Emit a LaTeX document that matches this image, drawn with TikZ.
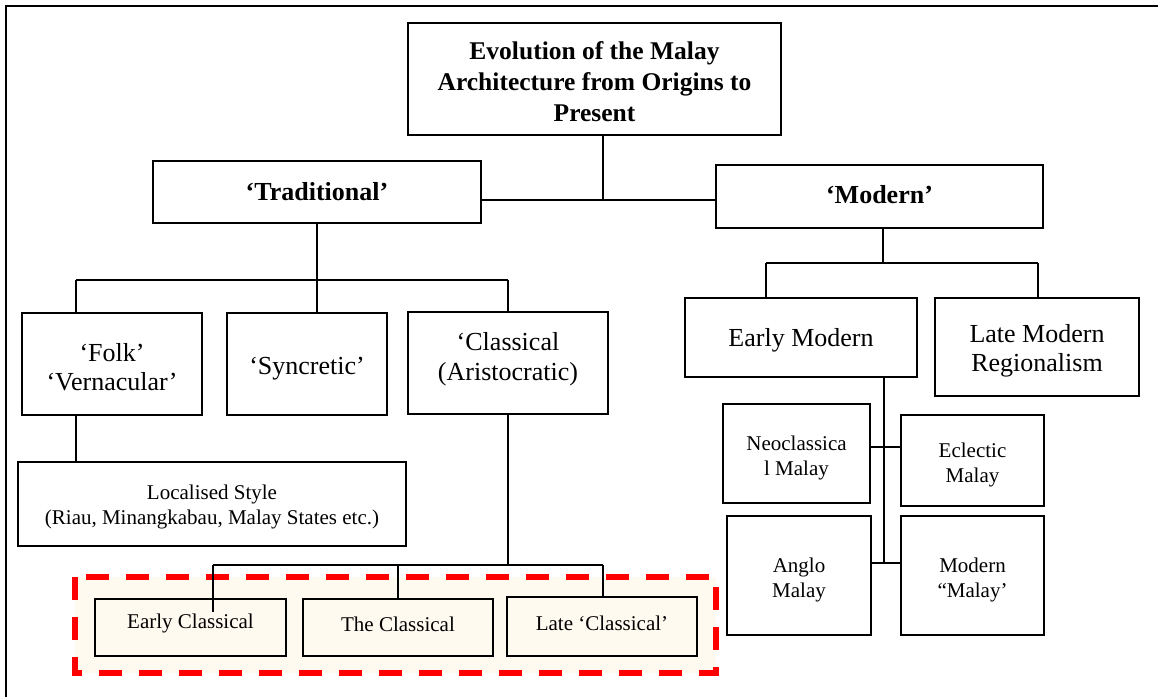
\documentclass[tikz,border=0pt]{standalone}
\usepackage{fontspec}
\setmainfont{Liberation Serif}
\definecolor{cream}{RGB}{255,250,240}
\definecolor{dashred}{RGB}{255,0,0}
\begin{document}
\begin{tikzpicture}[x=1pt,y=-1pt,
  box/.style={draw=black,line width=1.8pt,inner sep=0pt,fill=white},
  cbox/.style={box,fill=cream},
  txt/.style={inner sep=0pt,align=center},
  conn/.style={line width=2.2pt},
  titletxt/.style={txt,font=\bfseries\fontsize{25.5}{31}\selectfont},
  boldtxt/.style={txt,font=\bfseries\fontsize{26}{30}\selectfont},
  bigtxt/.style={txt,font=\fontsize{26}{29.5}\selectfont},
  smalltxt/.style={txt,font=\fontsize{21}{25}\selectfont},
]
\useasboundingbox (0,0) rectangle (1158,697);
% page frame (top and left edges)
\draw[line width=2pt] (5.5,697) -- (5.5,5.5) -- (1158,5.5);

% dashed highlight
\draw[draw=dashred,fill=cream,line width=5.5pt,dash pattern=on 23pt off 17pt] (75,577) rectangle (716,673);

% boxes
\node[box,minimum width=373pt,minimum height=112pt] (title) at (594.5,79) {};
\node[box,minimum width=328pt,minimum height=62pt] (trad) at (317,192) {};
\node[box,minimum width=327pt,minimum height=63pt] (modern) at (879.5,196.5) {};
\node[box,minimum width=180pt,minimum height=102pt] (folk) at (112,364) {};
\node[box,minimum width=160pt,minimum height=102pt] (sync) at (307,364) {};
\node[box,minimum width=200pt,minimum height=102pt] (clas) at (508,363) {};
\node[box,minimum width=388pt,minimum height=84pt] (local) at (212,504) {};
\node[cbox,minimum width=191pt,minimum height=57pt] (ecl) at (190.5,627.5) {};
\node[cbox,minimum width=190pt,minimum height=57pt] (thec) at (398,627.5) {};
\node[cbox,minimum width=190pt,minimum height=59pt] (latec) at (602,626.5) {};
\node[box,minimum width=232pt,minimum height=79pt] (emod) at (801,337.5) {};
\node[box,minimum width=204pt,minimum height=98pt] (lmod) at (1037,347) {};
\node[box,minimum width=147pt,minimum height=99pt] (neo) at (796.5,453.5) {};
\node[box,minimum width=143pt,minimum height=91pt] (ecle) at (972.5,460.5) {};
\node[box,minimum width=144pt,minimum height=119pt] (anglo) at (799,575.5) {};
\node[box,minimum width=143pt,minimum height=119pt] (mmal) at (972.5,575.5) {};

% texts
\node[titletxt] (title-t) at ([yshift=-3pt]title.center) {Evolution of the Malay\\Architecture from Origins to\\Present};
\node[boldtxt] (trad-t) at (trad.center) {‘Traditional’};
\node[boldtxt] (modern-t) at ([yshift=2pt]modern.center) {‘Modern’};
\node[bigtxt] (folk-t) at ([yshift=-3pt]folk.center) {‘Folk’\\‘Vernacular’};
\node[bigtxt] (sync-t) at ([yshift=-5pt]sync.center) {‘Syncretic’};
\node[bigtxt] (clas-t) at ([yshift=4pt]clas.center) {‘Classical\\(Aristocratic)};
\node[smalltxt] (local-t) at ([yshift=-3pt]local.center) {Localised Style\\(Riau, Minangkabau, Malay States etc.)};
\node[smalltxt] (ecl-t) at ([yshift=4pt]ecl.center) {Early Classical};
\node[smalltxt] (thec-t) at ([yshift=3pt]thec.center) {The Classical};
\node[smalltxt] (latec-t) at ([yshift=3pt]latec.center) {Late ‘Classical’};
\node[bigtxt] (emod-t) at ([yshift=-3pt]emod.center) {Early Modern};
\node[bigtxt] (lmod-t) at ([yshift=-4pt]lmod.center) {Late Modern\\Regionalism};
\node[smalltxt] (neo-t) at ([yshift=-4pt]neo.center) {Neoclassica\\l Malay};
\node[smalltxt] (ecle-t) at ([yshift=-4pt]ecle.center) {Eclectic\\Malay};
\node[smalltxt] (anglo-t) at ([yshift=-4pt]anglo.center) {Anglo\\Malay};
\node[smalltxt] (mmal-t) at ([yshift=-4pt]mmal.center) {Modern\\“Malay’};

% junction coordinates
\coordinate (j1) at (603,200);
\coordinate (jf) at (76,280);
\coordinate (jc) at (508,280);
\coordinate (jt) at (317,280);
\coordinate (ja) at (213,565);
\coordinate (jb) at (603,565);
\coordinate (jm) at (883,263);
\coordinate (jl) at (766,263);
\coordinate (jr) at (1038,263);
\coordinate (je) at (884,377);
\coordinate (jn) at (884,447);
\coordinate (js) at (884,563);

% connectors
\draw[conn] (title.south -| j1) -- (j1);
\draw[conn] (trad.east |- j1) -- (modern.west |- j1);

\draw[conn] (trad.south) -- (jt);
\draw[conn] (jf) -- (jc);
\draw[conn] (jf) -- (jf |- folk.north);
\draw[conn] (jt) -- (jt |- sync.north);
\draw[conn] (jc) -- (clas.north);
\draw[conn] (jf |- folk.south) -- (jf |- local.north);

\draw[conn] (clas.south) -- (clas.south |- ja);
\draw[conn] (ja) -- (jb);
\draw[conn] (ja) -- ++(0,47);
\draw[conn] (thec.north |- ja) -- (thec.north);
\draw[conn] (jb) -- (jb |- latec.north);

\draw[conn] (modern.south -| jm) -- (jm);
\draw[conn] (jl) -- (jr);
\draw[conn] (jl) -- (jl |- emod.north);
\draw[conn] (jr) -- (jr |- lmod.north);

\draw[conn] (je) -- (js);
\draw[conn] (neo.east |- jn) -- (ecle.west |- jn);
\draw[conn] (anglo.east |- js) -- (mmal.west |- js);
\end{tikzpicture}
\end{document}
